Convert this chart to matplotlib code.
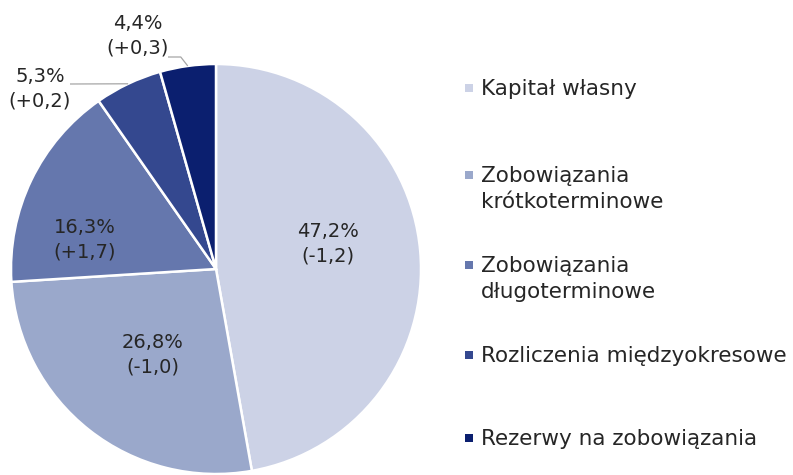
import matplotlib
matplotlib.use("Agg")
import matplotlib.pyplot as plt
import numpy as np

plt.rcParams['font.family'] = ['DejaVu Sans']

categories = ["Kapitał własny", "Zobowiązania\nkrótkoterminowe", "Zobowiązania\ndługoterminowe",
              "Rozliczenia międzyokresowe", "Rezerwy na zobowiązania"]
shares = [47.2, 26.8, 16.3, 5.3, 4.4]
changes = ["-1,2", "-1,0", "+1,7", "+0,2", "+0,3"]
colors = ["#CCD2E6", "#9AA8CB", "#6577AD", "#34488F", "#0B1F6F"]

W, H = 793, 475
fig = plt.figure(figsize=(W / 100, H / 100), dpi=100)

cx, cy, R = 216, 269, 205
ax = fig.add_axes([(cx - R) / W, (H - cy - R) / H, 2 * R / W, 2 * R / H])
wedges, _ = ax.pie(shares, colors=colors, startangle=90, counterclock=False, radius=1,
                   wedgeprops=dict(edgecolor="white", linewidth=1.8))
ax.set_xlim(-1, 1)
ax.set_ylim(-1, 1)
ax.set_aspect("equal")
ax.axis("off")

txtcol = "#262626"
fs = 14
fs_leg = 15.5


def fmt(v):
    return f"{v:.1f}".replace(".", ",") + "%"


def d(px, py):
    return (px - cx) / R, (cy - py) / R


# inside label positions (layout, pixel centres)
inside_pos = [(328, 244), (153, 355), (85, 240)]
for i, p in enumerate(inside_pos):
    x, y = d(*p)
    ax.text(x, y, f"{fmt(shares[i])}\n({changes[i]})", ha="center", va="center",
            fontsize=fs, color=txtcol, linespacing=1.35)

# outside labels with leader lines
outside = {3: ((40, 89), (70, 84)),
           4: ((138, 36), (168, 57))}
for i, (tp, lp) in outside.items():
    tx, ty = d(*tp)
    lx, ly = d(*lp)
    w = wedges[i]
    mid = np.deg2rad((w.theta1 + w.theta2) / 2)
    ex, ey = np.cos(mid), np.sin(mid)
    ax.text(tx, ty, f"{fmt(shares[i])}\n({changes[i]})", ha="center", va="center",
            fontsize=fs, color=txtcol, linespacing=1.35, clip_on=False)
    if i == 3:
        xs, ys = [lx, ex], [ly, ey]
    else:
        xs, ys = [lx, ex - 0.034, ex], [ly, ly, ey]
    ax.plot(xs, ys, color="#A6A6A6", lw=0.9, clip_on=False, solid_capstyle="butt")

# legend
leg_y = [88, 175, 265, 355, 438]
for lab, col, y in zip(categories, colors, leg_y):
    fig.patches.append(plt.Rectangle((465 / W, (H - y - 4) / H), 8 / W, 8 / H,
                                     transform=fig.transFigure, facecolor=col, edgecolor="none"))
    fig.text(481 / W, (H - y + 9) / H, lab, ha="left", va="top", fontsize=fs_leg,
             color=txtcol, linespacing=1.37)

fig.savefig("out.png", dpi=100)
